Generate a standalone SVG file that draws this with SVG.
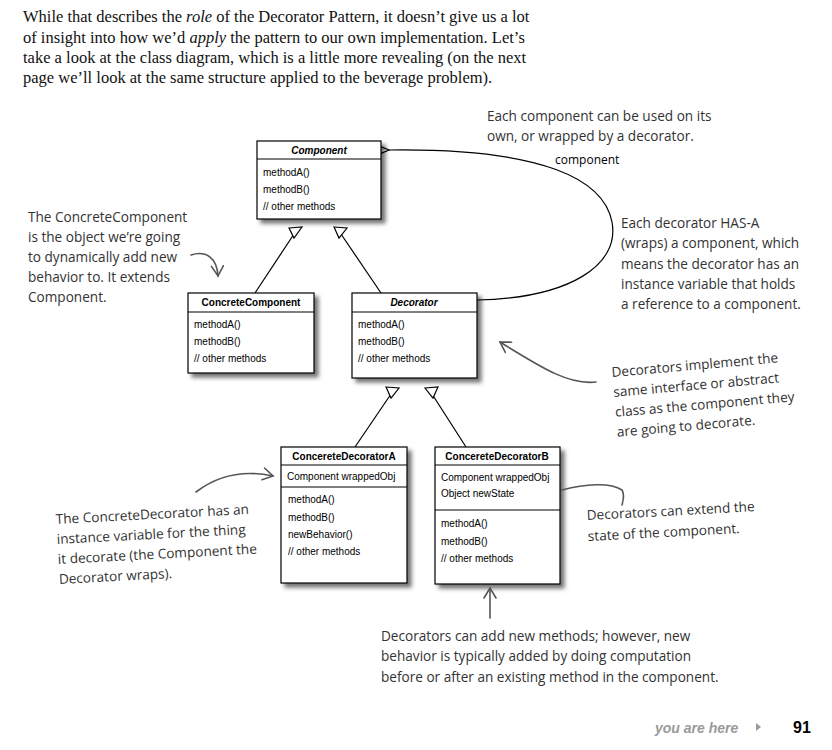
<svg xmlns="http://www.w3.org/2000/svg" width="832" height="750" viewBox="0 0 832 750">
<defs>
<style>
.body{font-family:"Liberation Serif","Times New Roman",serif;font-size:16.5px;fill:#111}
.box{fill:#fff;stroke:#000;stroke-width:1.2}
.sep{stroke:#000;stroke-width:1}
.title{font-family:"Liberation Sans",Arial,sans-serif;font-size:10px;font-weight:bold;fill:#000;text-anchor:middle}
.m{font-family:"Liberation Sans Narrow","Liberation Sans",Arial,sans-serif;font-size:10px;fill:#000}
.note{font-family:"Open Sans","Noto Sans",sans-serif;font-size:13.6px;fill:#333}
.conn{fill:none;stroke:#000;stroke-width:1.2}
.hand{fill:none;stroke:#555;stroke-width:1.6;stroke-linecap:round}
.tri{fill:#fff;stroke:#000;stroke-width:1.2}
</style>
<filter id="sh" x="-10%" y="-10%" width="130%" height="130%">
<feDropShadow dx="4" dy="4" stdDeviation="2" flood-color="#000" flood-opacity="0.55"/>
</filter>
<marker id="openA" markerWidth="14" markerHeight="12" refX="1" refY="6" orient="auto" markerUnits="userSpaceOnUse">
<path d="M13,1 L1,6 L13,11" fill="none" stroke="#000" stroke-width="1.3"/>
</marker>
<marker id="handA" markerWidth="14" markerHeight="14" refX="11" refY="7" orient="auto" markerUnits="userSpaceOnUse">
<path d="M1,1 L11,7 L1,13" fill="none" stroke="#555" stroke-width="1.6" stroke-linecap="round"/>
</marker>
</defs>
<rect width="832" height="750" fill="#fff"/>

<g id="intro">
<text class="body" x="23" y="22">While that describes the <tspan font-style="italic">role</tspan> of the Decorator Pattern, it doesn’t give us a lot</text>
<text class="body" x="23" y="43">of insight into how we’d <tspan font-style="italic">apply</tspan> the pattern to our own implementation. Let’s</text>
<text class="body" x="23" y="63">take a look at the class diagram, which is a little more revealing (on the next</text>
<text class="body" x="23" y="83">page we’ll look at the same structure applied to the beverage problem).</text>
</g>

<g id="connectors">
<path class="conn" d="M255,293 L294,234"/>
<path class="conn" d="M381,293 L341,234"/>
<path class="conn" d="M355,447 L391,394"/>
<path class="conn" d="M466,447 L432,394"/>
<path class="tri" d="M289,228 L302,227 L294,238 Z"/>
<path class="tri" d="M334,227 L347,228 L339,238 Z"/>
<path class="tri" d="M386,387 L399,388 L391,398 Z"/>
<path class="tri" d="M425,388 L438,387 L433,398 Z"/>
<path class="conn" d="M477,300 C570,298 620,265 612,222 C604,180 545,148 389,150" marker-end="url(#openA)"/>
<text x="555" y="164" font-family="'Open Sans','Noto Sans',sans-serif" font-size="12" fill="#000">component</text>
</g>

<g id="Component">
<rect class="box" x="257" y="141" width="124" height="78" filter="url(#sh)"/>
<line class="sep" x1="257" y1="159" x2="381" y2="159"/>
<text class="title" x="319" y="154" font-style="italic">Component</text>
<text class="m" x="263" y="176">methodA()</text>
<text class="m" x="263" y="193">methodB()</text>
<text class="m" x="263" y="210">// other methods</text>
</g>

<g id="ConcreteComponent">
<rect class="box" x="188" y="293" width="126" height="80" filter="url(#sh)"/>
<line class="sep" x1="188" y1="312" x2="314" y2="312"/>
<text class="title" x="251" y="306">ConcreteComponent</text>
<text class="m" x="194" y="328">methodA()</text>
<text class="m" x="194" y="345">methodB()</text>
<text class="m" x="194" y="362">// other methods</text>
</g>

<g id="Decorator">
<rect class="box" x="352" y="293" width="125" height="85" filter="url(#sh)"/>
<line class="sep" x1="352" y1="312" x2="477" y2="312"/>
<text class="title" x="414" y="306" font-style="italic">Decorator</text>
<text class="m" x="358" y="328">methodA()</text>
<text class="m" x="358" y="345">methodB()</text>
<text class="m" x="358" y="362">// other methods</text>
</g>

<g id="ConcreteDecoratorA">
<rect class="box" x="281" y="447" width="126" height="136" filter="url(#sh)"/>
<line class="sep" x1="281" y1="465" x2="407" y2="465"/>
<line class="sep" x1="281" y1="487" x2="407" y2="487"/>
<text class="title" x="344" y="460">ConcereteDecoratorA</text>
<text class="m" x="287" y="480">Component wrappedObj</text>
<text class="m" x="288" y="503">methodA()</text>
<text class="m" x="288" y="521">methodB()</text>
<text class="m" x="288" y="538">newBehavior()</text>
<text class="m" x="288" y="555">// other methods</text>
</g>

<g id="ConcreteDecoratorB">
<rect class="box" x="435" y="447" width="125" height="137" filter="url(#sh)"/>
<line class="sep" x1="435" y1="465" x2="560" y2="465"/>
<line class="sep" x1="435" y1="510" x2="560" y2="510"/>
<text class="title" x="497" y="460">ConcereteDecoratorB</text>
<text class="m" x="441" y="481">Component wrappedObj</text>
<text class="m" x="441" y="497">Object newState</text>
<text class="m" x="441" y="527">methodA()</text>
<text class="m" x="441" y="545">methodB()</text>
<text class="m" x="441" y="562">// other methods</text>
</g>

<g id="notes">
<text class="note" x="487" y="121">Each component can be used on its</text>
<text class="note" x="487" y="141">own, or wrapped by a decorator.</text>

<text class="note" x="28" y="222">The ConcreteComponent</text>
<text class="note" x="28" y="242">is the object we’re going</text>
<text class="note" x="28" y="262">to dynamically add new</text>
<text class="note" x="28" y="282">behavior to. It extends</text>
<text class="note" x="28" y="302">Component.</text>
<path class="hand" d="M191,255 C206,250 217,258 218,276" marker-end="url(#handA)"/>

<text class="note" x="621" y="228">Each decorator HAS-A</text>
<text class="note" x="621" y="248">(wraps) a component, which</text>
<text class="note" x="621" y="269">means the decorator has an</text>
<text class="note" x="621" y="289">instance variable that holds</text>
<text class="note" x="621" y="309">a reference to a component.</text>

<g transform="rotate(-5 612 377)">
<text class="note" x="612" y="377">Decorators implement the</text>
<text class="note" x="612" y="397">same interface or abstract</text>
<text class="note" x="612" y="417">class as the component they</text>
<text class="note" x="612" y="437">are going to decorate.</text>
</g>
<path class="hand" d="M596,382 C570,385 545,370 500,342" marker-end="url(#handA)"/>

<g transform="rotate(-3 56 524)">
<text class="note" x="56" y="524">The ConcreteDecorator has an</text>
<text class="note" x="56" y="544">instance variable for the thing</text>
<text class="note" x="56" y="564">it decorate (the Component the</text>
<text class="note" x="56" y="584">Decorator wraps).</text>
</g>
<path class="hand" d="M196,492 C218,475 245,470 273,476" marker-end="url(#handA)"/>

<g transform="rotate(-3 587 520)">
<text class="note" x="587" y="520">Decorators can extend the</text>
<text class="note" x="587" y="541">state of the component.</text>
</g>
<path class="hand" d="M562,490 C585,484 610,482 622,490 C625,495 623,501 622,505"/>

<path class="hand" d="M490,618 L490,588" marker-end="url(#handA)"/>
<text class="note" x="381" y="641">Decorators can add new methods; however, new</text>
<text class="note" x="381" y="661">behavior is typically added by doing computation</text>
<text class="note" x="381" y="682">before or after an existing method in the component.</text>
</g>

<g id="footer">
<text x="655" y="733" font-family="'Liberation Sans',Arial,sans-serif" font-size="14" font-weight="bold" font-style="italic" fill="#999">you are here</text>
<path d="M756,723 L761,727 L756,731 Z" fill="#999"/>
<text x="793" y="733" font-family="'Liberation Sans',Arial,sans-serif" font-size="16" font-weight="bold" fill="#000">91</text>
</g>
</svg>
